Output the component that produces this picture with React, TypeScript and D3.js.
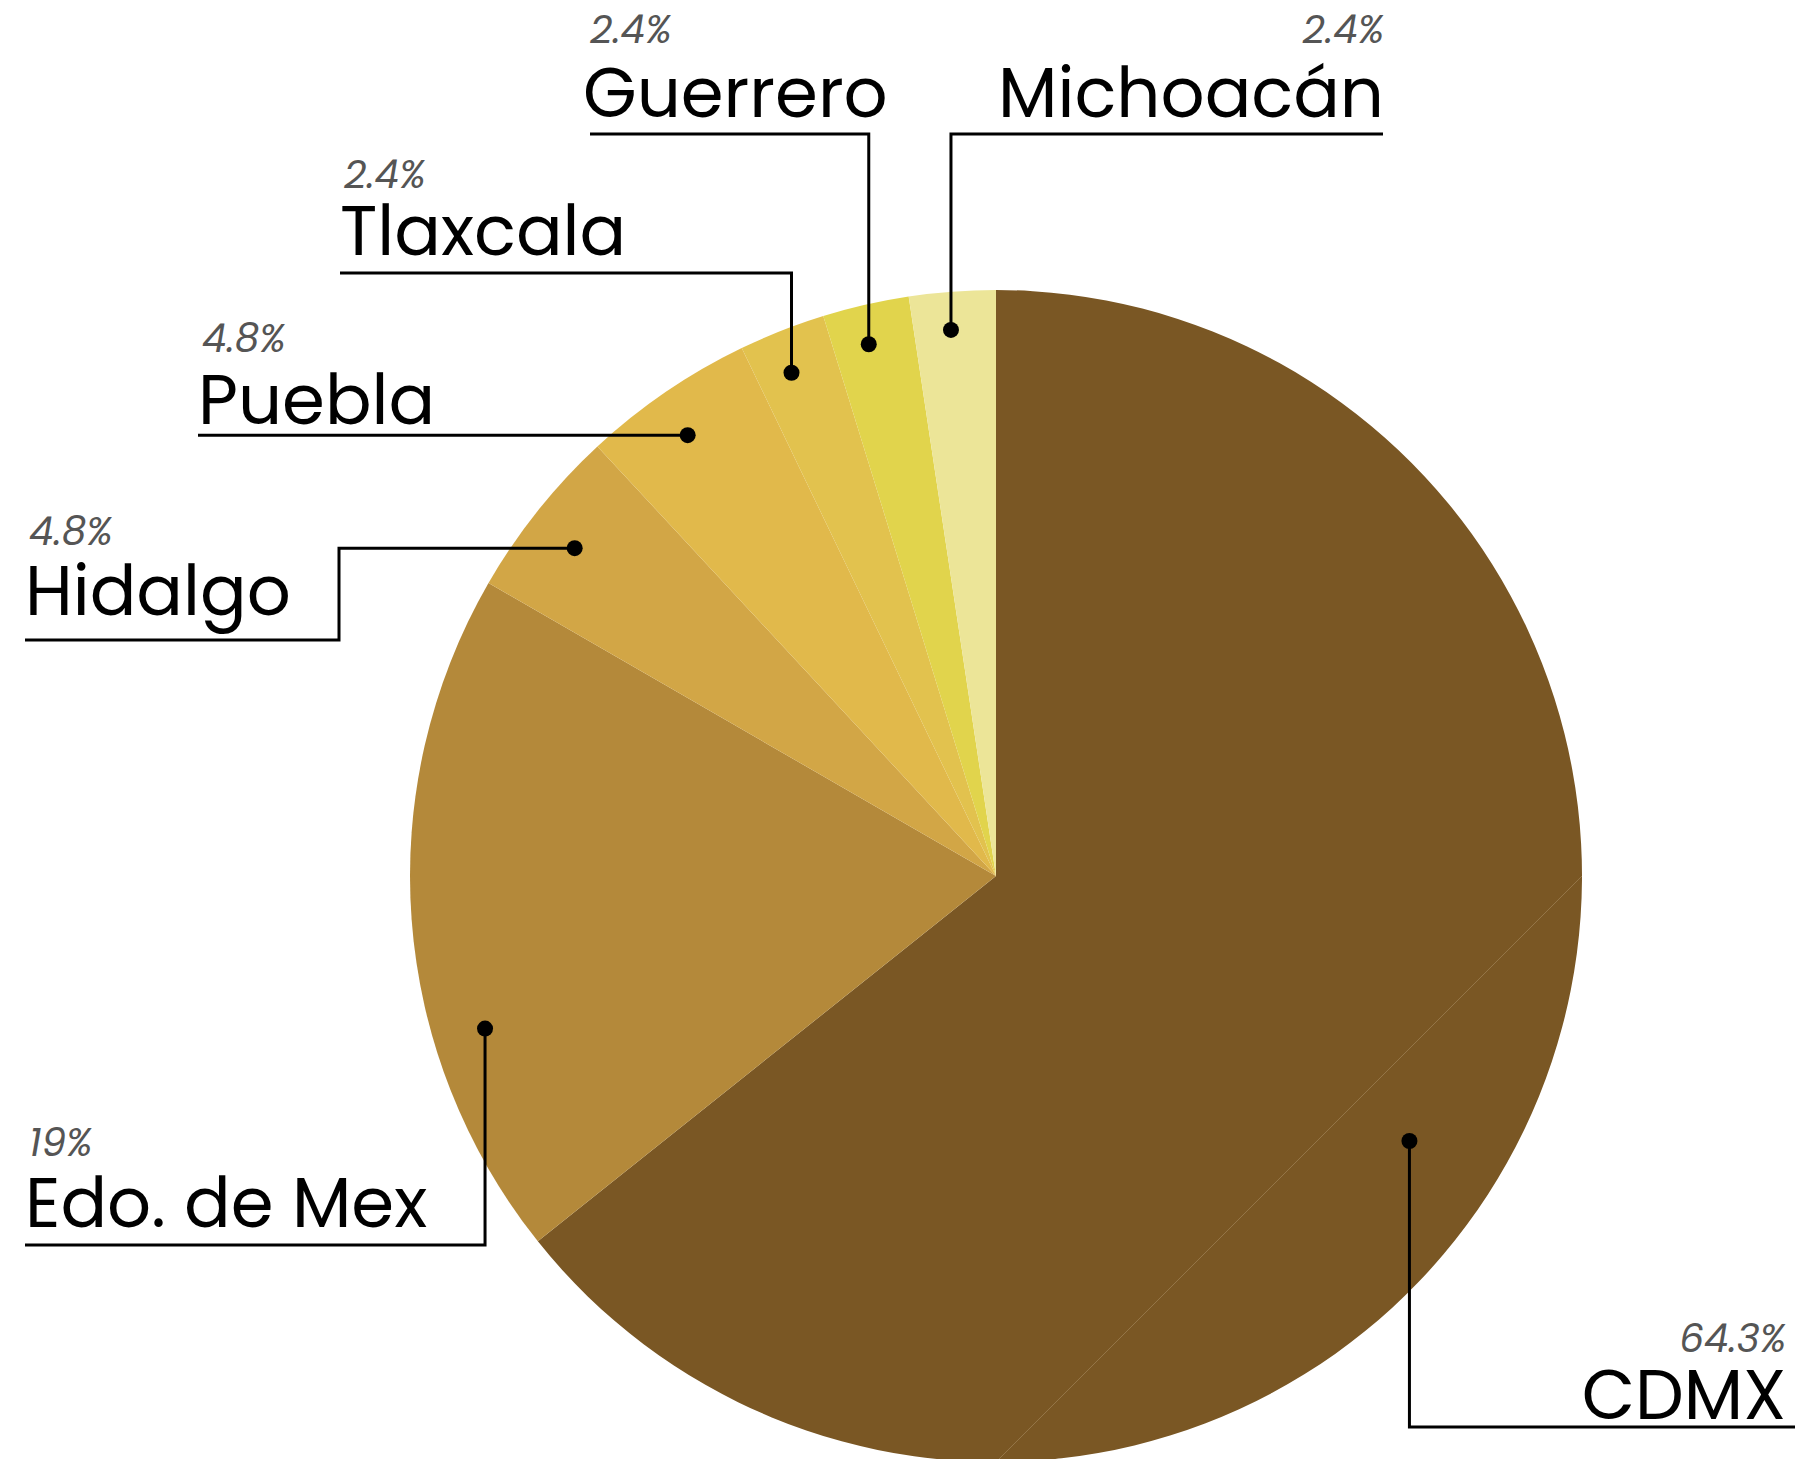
import React from "react";
import * as d3 from "d3";

const categories = ["CDMX", "Edo. de Mex", "Hidalgo", "Puebla", "Tlaxcala", "Guerrero", "Michoacán"];
const counts = [27, 8, 2, 2, 1, 1, 1];
const percentLabels = ["64.3%", "19%", "4.8%", "4.8%", "2.4%", "2.4%", "2.4%"];
const colors = ["#7a5724", "#b4893a", "#d2a646", "#e1b94b", "#e2c24e", "#e1d44c", "#ece598"];

// leader-line layout (position of dot within slice, routing, text placement)
type Leader = {
  t: number; // fraction along slice angle
  r: number; // fraction of radius
  route: string; // "v-h" | "h" | "h-v-h"
  y1?: number;
  xMid?: number;
  xEnd: number;
  anchor: "start" | "end";
  textX: number;
  pctX: number;
  nameY: number;
  pctY: number;
};
const leaders: Leader[] = [
  { t: 0.53, r: 0.838, route: "v-h", y1: 1427, xEnd: 1795, anchor: "end", textX: 1786, pctX: 1786, nameY: 1419, pctY: 1352 },
  { t: 0.32, r: 0.91, route: "v-h", y1: 1245, xEnd: 25, anchor: "start", textX: 25, pctX: 29, nameY: 1227, pctY: 1156 },
  { t: 0.46, r: 0.911, route: "h-v-h", xMid: 339, y1: 640, xEnd: 25, anchor: "start", textX: 25, pctX: 29, nameY: 615, pctY: 545 },
  { t: 0.46, r: 0.918, route: "h", xEnd: 198, anchor: "start", textX: 198, pctX: 202, nameY: 424, pctY: 352 },
  { t: 0.42, r: 0.927, route: "v-h", y1: 273, xEnd: 340, anchor: "start", textX: 340, pctX: 344, nameY: 255, pctY: 188 },
  { t: 0.43, r: 0.933, route: "v-h", y1: 134, xEnd: 590, anchor: "start", textX: 583, pctX: 590, nameY: 117, pctY: 43 },
  { t: 0.45, r: 0.935, route: "v-h", y1: 134, xEnd: 1383, anchor: "end", textX: 1384, pctX: 1384, nameY: 117, pctY: 43 },
];

const W = 1812;
const H = 1459;
const cx = 996;
const cy = 876;
const R = 586;
const FONT = "'Poppins', 'Open Sans', 'Noto Sans', sans-serif";

export default function App() {
  const pie = d3.pie<number>().sort(null).value((d) => d);
  const arcs = pie(counts);
  const arcGen = d3.arc<d3.PieArcDatum<number>>().innerRadius(0).outerRadius(R);

  return (
    <svg
      width={W}
      height={H}
      viewBox={`0 0 ${W} ${H}`}
      style={{ position: "absolute", left: 0, top: 0, background: "#fff" }}
    >
      <g transform={`translate(${cx},${cy})`}>
        {arcs.map((a, i) => (
          <path key={i} d={arcGen(a) || ""} fill={colors[i]} />
        ))}
        <line x1={R} y1={0} x2={0} y2={R} stroke="#a88d62" strokeWidth={0.8} strokeOpacity={0.7} />
      </g>
      {arcs.map((a, i) => {
        const L = leaders[i];
        const ang = a.startAngle + (a.endAngle - a.startAngle) * L.t;
        const dx = cx + Math.sin(ang) * R * L.r;
        const dy = cy - Math.cos(ang) * R * L.r;
        let pts: [number, number][] = [];
        if (L.route === "v-h") pts = [[dx, dy], [dx, L.y1!], [L.xEnd, L.y1!]];
        else if (L.route === "h") pts = [[dx, dy], [L.xEnd, dy]];
        else pts = [[dx, dy], [L.xMid!, dy], [L.xMid!, L.y1!], [L.xEnd, L.y1!]];
        const line = d3.line()(pts) || "";
        return (
          <g key={i}>
            <path d={line} fill="none" stroke="#000" strokeWidth={3} />
            <circle cx={dx} cy={dy} r={8} fill="#000" />
            <text
              x={L.pctX}
              y={L.pctY}
              textAnchor={L.anchor}
              fontFamily={FONT}
              fontStyle="italic"
              fontSize={39}
              fill="#555"
            >
              {percentLabels[i]}
            </text>
            <text
              x={L.textX}
              y={L.nameY}
              textAnchor={L.anchor}
              fontFamily={FONT}
              fontSize={69}
              fill="#000"
            >
              {categories[i]}
            </text>
          </g>
        );
      })}
    </svg>
  );
}
